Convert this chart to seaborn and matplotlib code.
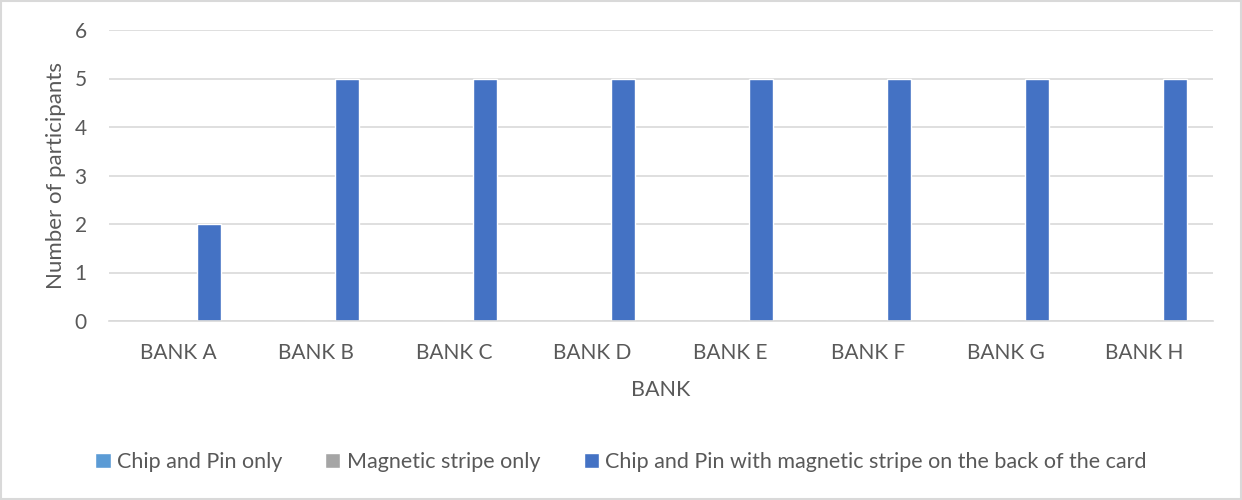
import matplotlib
matplotlib.use("Agg")
import matplotlib.pyplot as plt
import seaborn as sns
import pandas as pd

banks = ["BANK A", "BANK B", "BANK C", "BANK D", "BANK E", "BANK F", "BANK G", "BANK H"]
series_names = ["Chip and Pin only", "Magnetic stripe only",
                "Chip and Pin with magnetic stripe on the back of the card"]
chip_pin_only = [0, 0, 0, 0, 0, 0, 0, 0]
magstripe_only = [0, 0, 0, 0, 0, 0, 0, 0]
chip_pin_with_stripe = [2, 5, 5, 5, 5, 5, 5, 5]
colors = ["#5B9BD5", "#A5A5A5", "#4472C4"]
y_ticks = [0, 1, 2, 3, 4, 5, 6]

rows = []
for name, vals in zip(series_names, [chip_pin_only, magstripe_only, chip_pin_with_stripe]):
    for b, v in zip(banks, vals):
        rows.append({"BANK": b, "Card type": name, "Number of participants": v})
df = pd.DataFrame(rows)

sns.set_theme(style="white")
plt.rcParams["font.family"] = ["Lato", "DejaVu Sans"]
text_color = "#595959"

fig = plt.figure(figsize=(12.42, 5.0), dpi=100)
ax = fig.add_axes([109 / 1242, 179 / 500, 1104 / 1242, 291 / 500])

sns.barplot(data=df, x="BANK", y="Number of participants", hue="Card type",
            hue_order=series_names, palette=colors, width=0.675, gap=0.23,
            saturation=1, ax=ax)

ax.set_ylim(0, 6)
ax.set_yticks(y_ticks)
ax.set_xlim(-0.5, len(banks) - 0.5)
ax.yaxis.grid(True, color="#D9D9D9", linewidth=1.2)
ax.set_axisbelow(True)
for side in ["top", "right", "left"]:
    ax.spines[side].set_visible(False)
ax.spines["bottom"].set_color("#D9D9D9")
ax.spines["bottom"].set_linewidth(1.2)
ax.tick_params(axis="both", length=0, labelsize=15, colors=text_color)
ax.tick_params(axis="x", pad=16)
ax.tick_params(axis="y", pad=16)
ax.set_xlabel("BANK", fontsize=15.5, color=text_color, labelpad=12)
ax.set_ylabel("Number of participants", fontsize=16, color=text_color, labelpad=6)

sns.move_legend(ax, "center", bbox_to_anchor=(0.5, 38 / 500), bbox_transform=fig.transFigure,
                ncol=3, frameon=False, title=None, fontsize=15.5, handlelength=0.7,
                handleheight=0.7, handletextpad=0.3, columnspacing=2.0)
for t in ax.get_legend().get_texts():
    t.set_color(text_color)

fig.patches.append(plt.Rectangle((0.001, 0.002), 0.998, 0.996, transform=fig.transFigure,
                                 fill=False, edgecolor="#D9D9D9", linewidth=1.5))

fig.savefig("out.png", dpi=100, facecolor="white")
